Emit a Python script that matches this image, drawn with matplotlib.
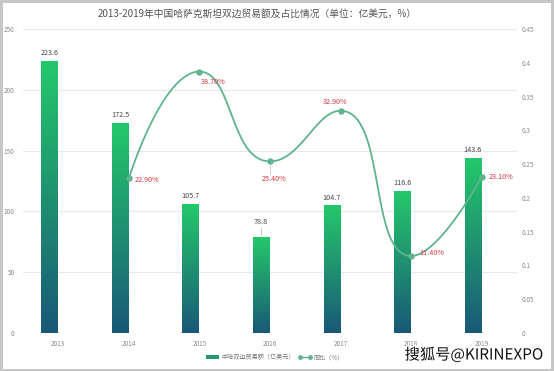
import numpy as np
import matplotlib
matplotlib.use("Agg")
import matplotlib.pyplot as plt
from matplotlib.colors import LinearSegmentedColormap
from matplotlib.patches import Rectangle, Patch
from matplotlib.lines import Line2D
import matplotlib.patheffects as pe

plt.rcParams['font.family'] = ['Noto Sans CJK SC', 'DejaVu Sans']

# ---------------- data ----------------
years = ['2013', '2014', '2015', '2016', '2017', '2018', '2019']
trade = [223.6, 172.5, 105.7, 78.8, 104.7, 116.6, 143.6]
ratio_years = ['2014', '2015', '2016', '2017', '2018', '2019']
ratio = [0.229, 0.387, 0.254, 0.329, 0.114, 0.231]
ratio_labels = ['22.90%', '38.70%', '25.40%', '32.90%', '11.40%', '23.10%']
left_ticks = [0, 50, 100, 150, 200, 250]
right_ticks = [0, 0.05, 0.1, 0.15, 0.2, 0.25, 0.3, 0.35, 0.4, 0.45]
title = '2013-2019年中国哈萨克斯坦双边贸易额及占比情况（单位：亿美元，%）'
legend_bar = '中哈双边贸易额（亿美元）'
legend_line = '同比（%）'

# ---------------- style ----------------
W, H = 554, 371
fig = plt.figure(figsize=(W / 100, H / 100), dpi=100)
ax_l, ax_r, ax_b, ax_t = 23, 517, 333, 29
ax = fig.add_axes([ax_l / W, 1 - ax_b / H, (ax_r - ax_l) / W, (ax_b - ax_t) / H])
ax2 = ax.twinx()

n = len(years)
x = np.arange(n)
ax.set_xlim(-0.5, n - 0.5)
ax.set_ylim(0, 250)
ax2.set_ylim(0, 0.45)

grid_c = '#e8e8e8'
tick_c = '#8a8a8a'
for t in left_ticks[1:]:
    ax.axhline(t, color=grid_c, lw=0.8, zorder=0)
ax.axhline(0, color='#dcdcdc', lw=0.8, zorder=0)

for a in (ax, ax2):
    for s in a.spines.values():
        s.set_visible(False)
    a.tick_params(length=0, labelsize=4.6, colors=tick_c)
ax.set_yticks(left_ticks)
ax.set_yticklabels([str(t) for t in left_ticks])
ax2.set_yticks(right_ticks)
ax2.set_yticklabels(['0' if t == 0 else ('%g' % t) for t in right_ticks])
ax.tick_params(axis='y', pad=6)
ax2.tick_params(axis='y', pad=3)
ax.set_xticks(x)
ax.set_xticklabels(years)
ax.tick_params(axis='x', pad=5)

# gradient bars (per bar)
cmap = LinearSegmentedColormap.from_list('g', ['#195878', '#1f9170', '#24c86b'])
grad = np.linspace(0, 1, 256).reshape(-1, 1)
bw = 0.227
boff = -0.127
for i, v in enumerate(trade):
    x0 = i + boff - bw / 2
    ax.imshow(grad, extent=[x0, x0 + bw, 0, v], origin='lower', cmap=cmap,
              aspect='auto', zorder=2, interpolation='bicubic')
    lift = 15 if v < 90 else 8
    ax.annotate(f'{v}', (i + boff, v), xytext=(0, lift), textcoords='offset pixels',
                ha='center', va='center', fontsize=5.2, color='#444444', zorder=5)
    if lift > 10:
        ax.annotate('', (i + boff, v), xytext=(i + boff, v),
                    textcoords='data')
        ax.plot([i + boff, i + boff], [v + 1.5, v + 7.5], color='#bbbbbb', lw=0.5, zorder=3)
ax.set_xlim(-0.5, n - 0.5)
ax.set_ylim(0, 250)

# echarts-style smooth line
def smooth_path(px, py, smooth=0.5, steps=40):
    pts = list(zip(px, py))
    out_x, out_y = [px[0]], [py[0]]
    cpx0, cpy0 = px[0], py[0]
    m = len(pts)
    for k in range(1, m):
        x_, y_ = pts[k]
        prevX, prevY = pts[k - 1]
        if k == m - 1:
            cpx1, cpy1 = x_, y_
            ncx, ncy = x_, y_
        else:
            nextX, nextY = pts[k + 1]
            vx, vy = nextX - prevX, nextY - prevY
            lp = np.hypot(x_ - prevX, y_ - prevY)
            ln = np.hypot(nextX - x_, nextY - y_)
            r = ln / (ln + lp)
            ncx = x_ + vx * smooth * r
            ncy = y_ + vy * smooth * r
            ncx = min(ncx, max(nextX, x_)); ncy = min(ncy, max(nextY, y_))
            ncx = max(ncx, min(nextX, x_)); ncy = max(ncy, min(nextY, y_))
            vx, vy = ncx - x_, ncy - y_
            cpx1 = x_ - vx * lp / ln; cpy1 = y_ - vy * lp / ln
            cpx1 = min(cpx1, max(prevX, x_)); cpy1 = min(cpy1, max(prevY, y_))
            cpx1 = max(cpx1, min(prevX, x_)); cpy1 = max(cpy1, min(prevY, y_))
            vx, vy = x_ - cpx1, y_ - cpy1
            ncx = x_ + vx * ln / lp; ncy = y_ + vy * ln / lp
        t = np.linspace(0, 1, steps)[1:]
        bx = ((1 - t) ** 3 * prevX + 3 * (1 - t) ** 2 * t * cpx0
              + 3 * (1 - t) * t ** 2 * cpx1 + t ** 3 * x_)
        by = ((1 - t) ** 3 * prevY + 3 * (1 - t) ** 2 * t * cpy0
              + 3 * (1 - t) * t ** 2 * cpy1 + t ** 3 * y_)
        out_x.extend(bx); out_y.extend(by)
        cpx0, cpy0 = ncx, ncy
    return np.array(out_x), np.array(out_y)

rx = np.array([years.index(y) for y in ratio_years], dtype=float)
ry = np.array(ratio)
sx = (ax_r - ax_l) / n          # px per category
sy = (ax_b - ax_t) / 0.45       # px per unit
cx, cy = smooth_path(rx * sx, ry * sy)
line_c = '#5fb48e'
ax2.plot(cx / sx, cy / sy, color=line_c, lw=1.3, zorder=4)
ax2.plot(rx, ry, 'o', color=line_c, ms=3.6, zorder=5)

# percentage labels (offsets in pixels)
offs = [(6, -2, 'left'), (1, -10, 'left'), (4, -18, 'center'),
        (-5, 9, 'center'), (8, 3, 'left'), (7, 0, 'left')]
red = '#d6383f'
for xi, yi, lab, (dx, dy, ha) in zip(rx, ry, ratio_labels, offs):
    ax2.annotate(lab, (xi, yi), xytext=(dx, dy), textcoords='offset pixels',
                 ha=ha, va='center', fontsize=5.2, color=red, zorder=6)
ax2.plot([rx[2], rx[2]], [ry[2] - 0.006, ry[2] - 0.018], color='#bbbbbb', lw=0.5, zorder=3)
ax2.set_ylim(0, 0.45)

# title
fig.text(0.465, 1 - 14 / H, title, ha='center', va='center', fontsize=7, color='#555555')

# legend
handles = [Patch(facecolor='#219a6f', edgecolor='none'),
           Line2D([0], [0], color=line_c, lw=1, marker='o', ms=2.5)]
leg = fig.legend(handles, [legend_bar, legend_line], loc='center',
                 bbox_to_anchor=(0.496, 1 - 357 / H), ncol=2, frameon=False,
                 fontsize=4.4, handlelength=2.2, handleheight=0.6, columnspacing=0.6,
                 handletextpad=0.3, numpoints=2, labelcolor='#777777')

# watermark
fig.text(543 / W, 1 - 355 / H, '搜狐号@KIRINEXPO', ha='right', va='center', fontsize=11,
         color='#111111',
         path_effects=[pe.withStroke(linewidth=2.2, foreground='white')], zorder=10)

# border
fig.patches.append(Rectangle((0.002, 0.003), 0.995, 0.993, transform=fig.transFigure,
                             fill=False, edgecolor='#c6c6c6', lw=2.2))

fig.savefig('out.png', dpi=100)
